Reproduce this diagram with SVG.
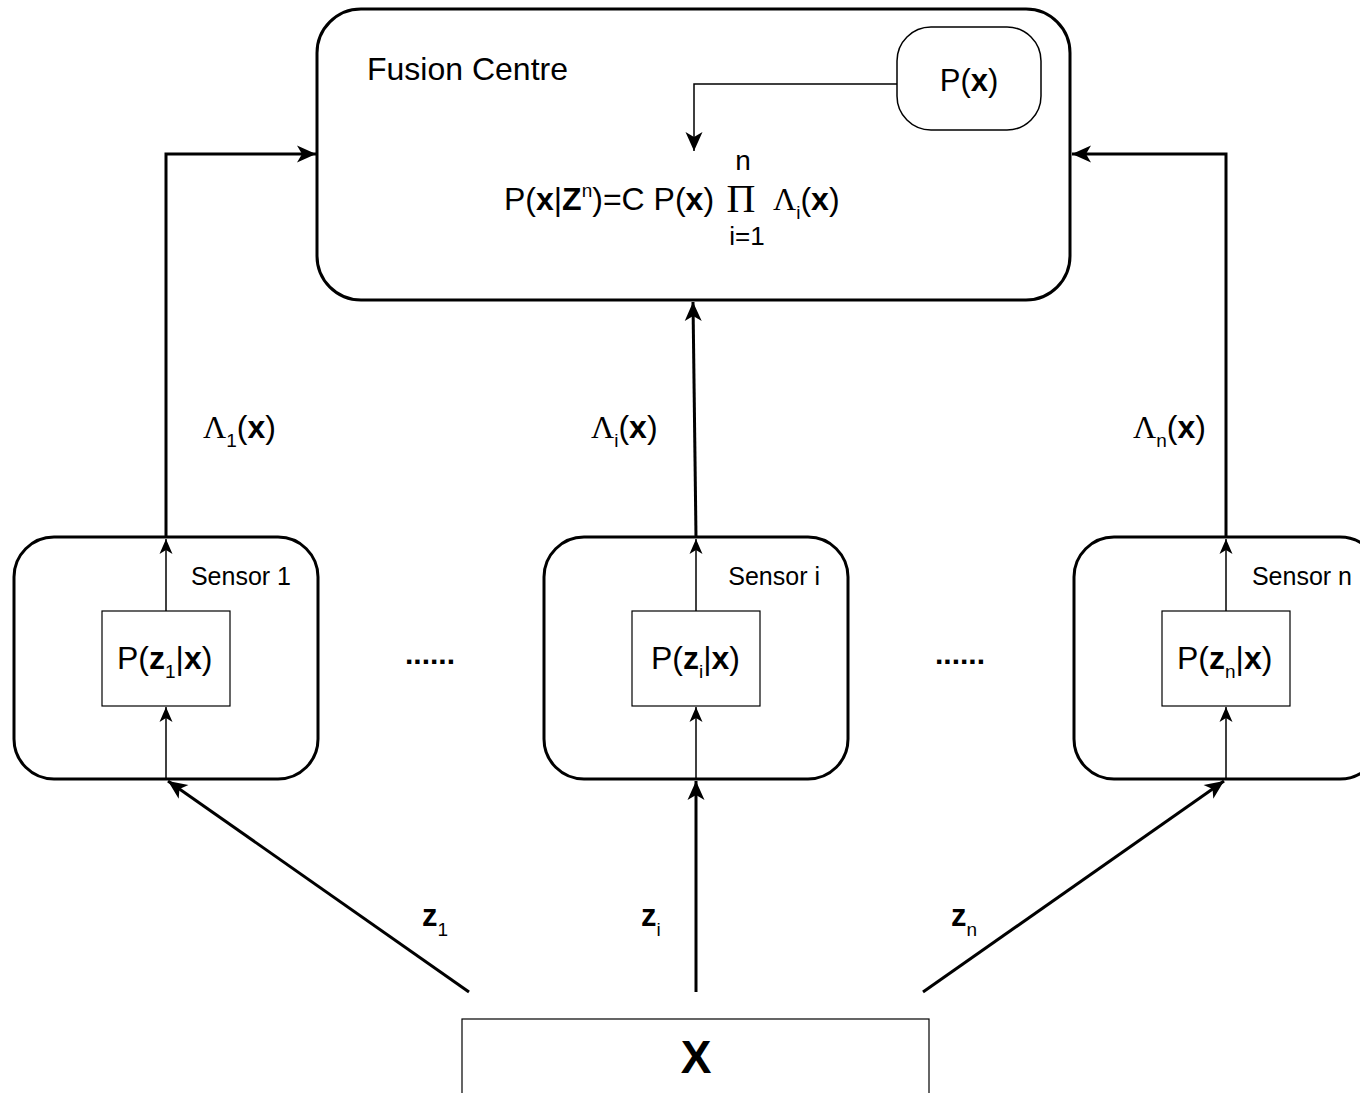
<svg xmlns="http://www.w3.org/2000/svg" width="1360" height="1093" viewBox="0 0 1360 1093">
<style>
.t{font-family:"Liberation Sans",Arial,sans-serif;fill:#000}
.s{font-family:"Liberation Serif","Times New Roman",serif;fill:#000}
.b{font-weight:bold}
.big{fill:#fff;stroke:#000;stroke-width:3}
.box{fill:#fff;stroke:#000;stroke-width:1.2}
.thick{fill:none;stroke:#000;stroke-width:3}
.thin{fill:none;stroke:#000;stroke-width:1.5}
</style>
<defs>
<marker id="ah" markerUnits="userSpaceOnUse" markerWidth="22" markerHeight="20" refX="19" refY="8.5" orient="auto" overflow="visible">
<path d="M0,0 L19,8.5 L0,17 L5,8.5 Z" fill="#000"/>
</marker>
<marker id="as" markerUnits="userSpaceOnUse" markerWidth="18" markerHeight="16" refX="15" refY="6.5" orient="auto" overflow="visible">
<path d="M0,0 L15,6.5 L0,13 L4,6.5 Z" fill="#000"/>
</marker>
</defs>

<g id="fusion">
<rect class="big" x="317" y="9" width="753" height="291" rx="44" ry="44"/>
<text class="t" x="367" y="80" font-size="32">Fusion Centre</text>
<text class="t" x="504" y="210" font-size="32">P(<tspan class="b">x</tspan>|<tspan class="b">Z</tspan><tspan font-size="19" dy="-13">n</tspan><tspan dy="13">)=C P(</tspan><tspan class="b">x</tspan>)</text>
<text class="s" x="741" y="212" font-size="40" text-anchor="middle">Π</text>
<text class="t" x="743" y="170" font-size="28" text-anchor="middle">n</text>
<text class="t" x="747" y="245" font-size="26" text-anchor="middle">i=1</text>
<text class="t" x="773" y="210" font-size="32"><tspan class="s">Λ</tspan><tspan font-size="19" dy="9">i</tspan><tspan dy="-9">(</tspan><tspan class="b">x</tspan>)</text>
</g>

<g id="prior">
<rect class="thin" x="897" y="27" width="144" height="103" rx="34" ry="34" fill="#fff"/>
<text class="t" x="969" y="91" font-size="31" text-anchor="middle">P(<tspan class="b">x</tspan>)</text>
</g>

<g id="sensor1">
<rect class="big" x="14" y="537" width="304" height="242" rx="40" ry="40"/>
<text class="t" x="291" y="585" font-size="25" text-anchor="end">Sensor 1</text>
<rect class="box" x="102" y="611" width="128" height="95"/>
<text class="t" x="117" y="669" font-size="32">P(<tspan class="b">z</tspan><tspan font-size="19" dy="9">1</tspan><tspan dy="-9">|</tspan><tspan class="b">x</tspan>)</text>
</g>

<g id="sensori">
<rect class="big" x="544" y="537" width="304" height="242" rx="40" ry="40"/>
<text class="t" x="820" y="585" font-size="25" text-anchor="end">Sensor i</text>
<rect class="box" x="632" y="611" width="128" height="95"/>
<text class="t" x="651" y="669" font-size="32">P(<tspan class="b">z</tspan><tspan font-size="19" dy="9">i</tspan><tspan dy="-9">|</tspan><tspan class="b">x</tspan>)</text>
</g>

<g id="sensorn">
<rect class="big" x="1074" y="537" width="306" height="242" rx="40" ry="40"/>
<text class="t" x="1352" y="585" font-size="25" text-anchor="end">Sensor n</text>
<rect class="box" x="1162" y="611" width="128" height="95"/>
<text class="t" x="1177" y="669" font-size="32">P(<tspan class="b">z</tspan><tspan font-size="19" dy="9">n</tspan><tspan dy="-9">|</tspan><tspan class="b">x</tspan>)</text>
</g>

<g id="dots">
<text class="t b" x="405" y="664" font-size="30">......</text>
<text class="t b" x="935" y="664" font-size="30">......</text>
</g>

<g id="state">
<rect class="box" x="462" y="1019" width="467" height="90"/>
<text class="t b" x="696" y="1073" font-size="46" text-anchor="middle">X</text>
</g>

<g id="connectors">
<path class="thin" d="M897,84 L694,84 L694,151" marker-end="url(#ah)"/>
<path class="thick" d="M166,537 L166,154 L316,154" marker-end="url(#ah)"/>
<path class="thick" d="M1226,537 L1226,154 L1072,154" marker-end="url(#ah)"/>
<path class="thick" d="M696,537 L693,302" marker-end="url(#ah)"/>
<path class="thin" d="M166,611 L166,539" marker-end="url(#as)"/>
<path class="thin" d="M166,779 L166,707" marker-end="url(#as)"/>
<path class="thin" d="M696,611 L696,539" marker-end="url(#as)"/>
<path class="thin" d="M696,779 L696,707" marker-end="url(#as)"/>
<path class="thin" d="M1226,611 L1226,539" marker-end="url(#as)"/>
<path class="thin" d="M1226,779 L1226,707" marker-end="url(#as)"/>
<path class="thick" d="M469,992 L168,781" marker-end="url(#ah)"/>
<path class="thick" d="M696,992 L696,781" marker-end="url(#ah)"/>
<path class="thick" d="M923,992 L1224,781" marker-end="url(#ah)"/>
<text class="t" x="203" y="438" font-size="32"><tspan class="s">Λ</tspan><tspan font-size="19" dy="9">1</tspan><tspan dy="-9">(</tspan><tspan class="b">x</tspan>)</text>
<text class="t" x="591" y="438" font-size="32"><tspan class="s">Λ</tspan><tspan font-size="19" dy="9">i</tspan><tspan dy="-9">(</tspan><tspan class="b">x</tspan>)</text>
<text class="t" x="1133" y="438" font-size="32"><tspan class="s">Λ</tspan><tspan font-size="19" dy="9">n</tspan><tspan dy="-9">(</tspan><tspan class="b">x</tspan>)</text>
<text class="t" x="422" y="926" font-size="31"><tspan class="b">z</tspan><tspan font-size="19" dy="10">1</tspan></text>
<text class="t" x="641" y="926" font-size="31"><tspan class="b">z</tspan><tspan font-size="19" dy="10">i</tspan></text>
<text class="t" x="951" y="926" font-size="31"><tspan class="b">z</tspan><tspan font-size="19" dy="10">n</tspan></text>
</g>
</svg>
